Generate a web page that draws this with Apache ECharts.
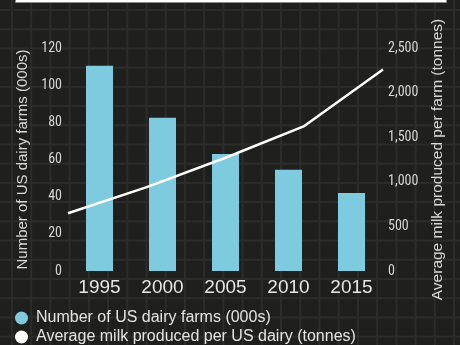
<!DOCTYPE html>
<html>
<head>
<meta charset="utf-8">
<script src="https://cdn.jsdelivr.net/npm/echarts@6/dist/echarts.min.js"></script>
<style>
html,body{margin:0;padding:0;}
body{background-color:#1f1f1d;
background-image:linear-gradient(to right,#2c2c2a 2px,transparent 2px),linear-gradient(to bottom,#2c2c2a 2px,transparent 2px);
background-size:19.23px 19.23px;background-position:11px 9px;}
#c{width:460px;height:345px;}
</style>
</head>
<body>
<div id="c"></div>
<script>
var years = ['1995','2000','2005','2010','2015'];
var farms = [110.5, 82.5, 63, 54.5, 42];
var milk = [647, 940, 1270, 1625, 2260];
var leftTicks = {min:0, max:120, interval:20};
var rightTicks = {min:0, max:2500, interval:500};
var farmsName = 'Number of US dairy farms (000s)';
var milkName = 'Average milk produced per US dairy (tonnes)';
var leftTitle = 'Number of US dairy farms (000s)';
var rightTitle = 'Average milk produced per farm (tonnes)';

var chart = echarts.init(document.getElementById('c'));
var tickFont = '"Liberation Sans Narrow","Roboto Condensed",Roboto,sans-serif';
var baseFont = '"Liberation Sans",Arial,sans-serif';
function legendAt(name, top){
  return {
    orient:'horizontal', left:15, top:top, padding:0,
    icon:'circle', itemWidth:13, itemHeight:13,
    textStyle:{color:'#e4e4e4', fontSize:16, fontFamily:baseFont, padding:[0,0,0,3]},
    data:[name]
  };
}
chart.setOption({
  backgroundColor:'transparent',
  animation:false,
  grid:{left:68,right:77,top:48,bottom:74},
  legend:[legendAt(farmsName, 310), legendAt(milkName, 329)],
  graphic:[{type:'rect', shape:{x:15.5,y:-6,width:431,height:8.5}, style:{fill:'#ffffff', stroke:'#8a8a8a', lineWidth:1}}],
  xAxis:[
    {type:'category', data:years, axisLine:{show:false}, axisTick:{show:false},
     axisLabel:{color:'#e6e6e6', fontSize:19, margin:7, fontFamily:baseFont}},
    {type:'category', data:years, boundaryGap:false, show:false, position:'bottom'}
  ],
  yAxis:[
    {type:'value', min:leftTicks.min, max:leftTicks.max, interval:leftTicks.interval,
     splitLine:{show:false}, axisLine:{show:false}, axisTick:{show:false},
     axisLabel:{color:'#d6d6d6', fontSize:14, margin:6, fontFamily:tickFont},
     name:leftTitle, nameLocation:'middle', nameGap:35, nameRotate:90,
     nameTextStyle:{color:'#d8d8d8', fontSize:15, fontFamily:baseFont}},
    {type:'value', min:rightTicks.min, max:rightTicks.max, interval:rightTicks.interval,
     splitLine:{show:false}, axisLine:{show:false}, axisTick:{show:false},
     axisLabel:{color:'#d6d6d6', fontSize:14, margin:5,
       fontFamily:tickFont,
       formatter:function(v){return v.toLocaleString('en-US');}},
     name:rightTitle, nameLocation:'middle', nameGap:47, nameRotate:90,
     nameTextStyle:{color:'#d8d8d8', fontSize:15.5, fontFamily:baseFont}}
  ],
  series:[
    {name:farmsName, type:'bar', data:farms, xAxisIndex:0, yAxisIndex:0, barWidth:27,
     itemStyle:{color:'#7ecade'}},
    {name:milkName, type:'line', data:milk, xAxisIndex:1, yAxisIndex:1,
     symbol:'none', lineStyle:{color:'#ffffff', width:2.5}, itemStyle:{color:'#ffffff'}}
  ]
});
</script>
</body>
</html>
